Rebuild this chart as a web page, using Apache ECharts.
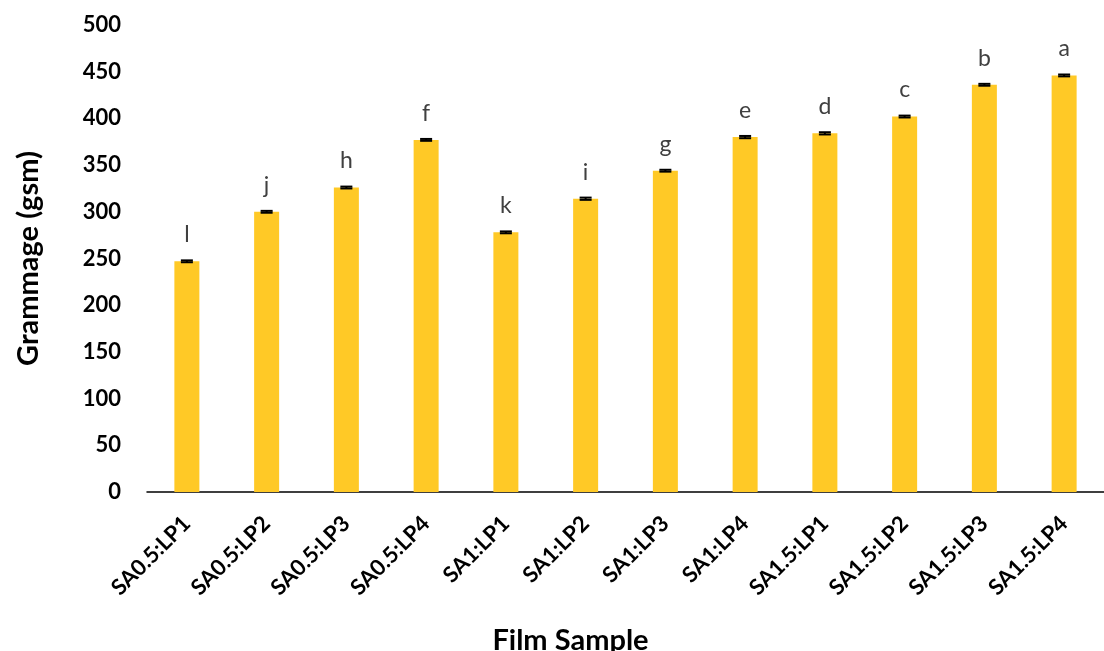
<!DOCTYPE html>
<html>
<head>
<meta charset="utf-8">
<title>Grammage by film sample</title>
<script src="https://cdn.jsdelivr.net/npm/echarts@6/dist/echarts.min.js"></script>
<style>
  html, body { margin: 0; padding: 0; background: #ffffff; }
  #chart { width: 1104px; height: 651px; }
</style>
</head>
<body>
<div id="chart"></div>
<script>
// Film samples on the x axis
const samples = ['SA0.5:LP1', 'SA0.5:LP2', 'SA0.5:LP3', 'SA0.5:LP4',
                 'SA1:LP1', 'SA1:LP2', 'SA1:LP3', 'SA1:LP4',
                 'SA1.5:LP1', 'SA1.5:LP2', 'SA1.5:LP3', 'SA1.5:LP4'];
// Mean grammage (gsm)
const grammage = [247, 300, 326, 377, 278, 314, 344, 380, 384, 402, 436, 446];
// Standard deviation for the error bars
const stdDev = [1, 1, 1, 1, 1, 1.2, 1, 1.2, 1.2, 1, 1, 1];
// Significance letters above each bar
const groups = ['l', 'j', 'h', 'f', 'k', 'i', 'g', 'e', 'd', 'c', 'b', 'a'];
// Y axis ticks
const yMin = 0, yMax = 500, yStep = 50;

const FONT = 'Lato, "Open Sans", "Liberation Sans", sans-serif';
const chart = echarts.init(document.getElementById('chart'), null, { renderer: 'canvas' });

const errorData = samples.map((s, i) => [i, grammage[i] - stdDev[i], grammage[i] + stdDev[i]]);

chart.setOption({
  animation: false,
  backgroundColor: '#ffffff',
  grid: { left: 147, right: 0, top: 25, bottom: 159, containLabel: false, outerBoundsMode: 'none' },
  xAxis: {
    type: 'category',
    data: samples,
    name: 'Film Sample',
    nameLocation: 'middle',
    nameGap: 134,
    nameTextStyle: {
      fontFamily: FONT, fontWeight: 'bold', fontSize: 29, color: '#000',
      padding: [0, 110, 0, 0]
    },
    axisLine: { lineStyle: { color: '#000', width: 1.5 } },
    axisTick: { show: false },
    axisLabel: {
      rotate: 45, margin: 28, interval: 0,
      fontFamily: FONT, fontWeight: 'bold', fontSize: 22, color: '#000'
    }
  },
  yAxis: {
    type: 'value',
    min: yMin, max: yMax, interval: yStep,
    name: 'Grammage (gsm)',
    nameLocation: 'middle',
    nameGap: 104,
    nameTextStyle: { fontFamily: FONT, fontWeight: 'bold', fontSize: 29, color: '#000' },
    axisLine: { show: false },
    axisTick: { show: false },
    splitLine: { show: false },
    axisLabel: { margin: 26, fontFamily: FONT, fontWeight: 'bold', fontSize: 22, color: '#000' }
  },
  series: [
    {
      type: 'bar',
      data: grammage,
      barWidth: 25,
      itemStyle: { color: '#FFC926' },
      label: {
        show: true,
        position: 'top',
        distance: 15,
        formatter: p => groups[p.dataIndex],
        fontFamily: FONT, fontSize: 23, color: '#404040'
      }
    },
    {
      type: 'custom',
      data: errorData,
      z: 5,
      renderItem: (params, api) => {
        const x = api.value(0);
        const lo = api.coord([x, api.value(1)]);
        const hi = api.coord([x, api.value(2)]);
        const half = 6;
        const style = { stroke: '#000', lineWidth: 2, fill: null };
        return {
          type: 'group',
          children: [
            { type: 'line', shape: { x1: lo[0], y1: lo[1], x2: hi[0], y2: hi[1] }, style },
            { type: 'line', shape: { x1: lo[0] - half, y1: lo[1], x2: lo[0] + half, y2: lo[1] }, style },
            { type: 'line', shape: { x1: hi[0] - half, y1: hi[1], x2: hi[0] + half, y2: hi[1] }, style }
          ]
        };
      }
    }
  ]
});
</script>
</body>
</html>
